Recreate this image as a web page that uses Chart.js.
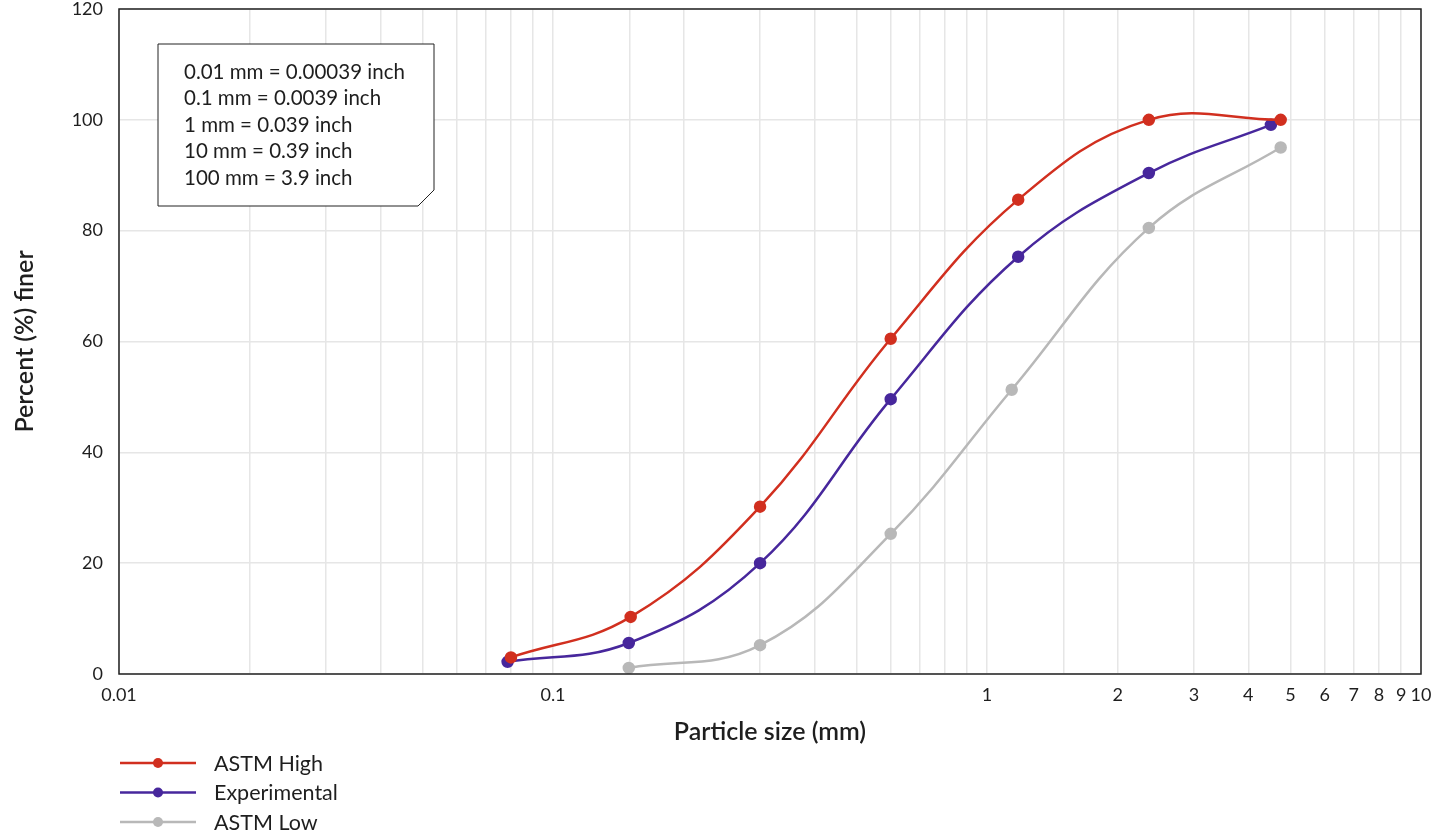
<!DOCTYPE html>
<html>
<head>
<meta charset="utf-8">
<script src="https://cdn.jsdelivr.net/npm/chart.js@4.4.0/dist/chart.umd.min.js"></script>
<style>
  html, body { margin: 0; padding: 0; background: #fff; }
  #wrap { width: 1438px; height: 831px; }
</style>
</head>
<body>
<div id="wrap"><canvas id="grading"></canvas></div>
<script>
// particle size distribution (sieve analysis)

const seriesNames = ['ASTM High', 'Experimental', 'ASTM Low'];
const seriesColors = ['#d12f1f', '#47279c', '#b8b8b8'];

const highSizes = [0.08, 0.151, 0.3, 0.6, 1.18, 2.36, 4.75];
const highFiner = [3, 10.3, 30.2, 60.5, 85.6, 100, 100];

const expSizes = [0.0786, 0.1495, 0.3, 0.6, 1.18, 2.36, 4.51];
const expFiner = [2.2, 5.6, 20, 49.6, 75.3, 90.4, 99.1];

const lowSizes = [0.1495, 0.3, 0.6, 1.14, 2.36, 4.75];
const lowFiner = [1.1, 5.2, 25.3, 51.3, 80.5, 95];

const xTickLabels = ['0.01', '0.1', '1', '2', '3', '4', '5', '6', '7', '8', '9', '10'];
const yTicks = [0, 20, 40, 60, 80, 100, 120];

const noteLines = [
    '0.01 mm = 0.00039 inch',
    '0.1 mm = 0.0039 inch',
    '1 mm = 0.039 inch',
    '10 mm = 0.39 inch',
    '100 mm = 3.9 inch'
];

const FONT = 'Lato, "Open Sans", sans-serif';
const TEXT = '#1e1e1e';

function toPoints(xs, ys) {
    return xs.map((x, i) => ({ x: x, y: ys[i] }));
}

function fmtTick(v) {
    const s = parseFloat(v.toPrecision(3)).toString();
    return xTickLabels.includes(s) ? s : '';
}

// box with the mm -> inch conversions, top-left of the plot
const notePlugin = {
    id: 'noteBox',
    afterDatasetsDraw(chart) {
        const ctx = chart.ctx;
        const x0 = 158, y0 = 44, x1 = 434, y1 = 206, cut = 16;
        ctx.save();
        ctx.beginPath();
        ctx.moveTo(x0, y0);
        ctx.lineTo(x1, y0);
        ctx.lineTo(x1, y1 - cut);
        ctx.lineTo(x1 - cut, y1);
        ctx.lineTo(x0, y1);
        ctx.closePath();
        ctx.fillStyle = '#fff';
        ctx.fill();
        ctx.lineWidth = 1;
        ctx.strokeStyle = '#222';
        ctx.stroke();
        ctx.fillStyle = TEXT;
        ctx.font = '20.5px ' + FONT;
        ctx.textBaseline = 'middle';
        noteLines.forEach((t, i) => ctx.fillText(t, 184, 72 + i * 26.5));
        ctx.restore();
    }
};

// full frame round the plot area
const framePlugin = {
    id: 'frame',
    afterDraw(chart) {
        const a = chart.chartArea;
        const ctx = chart.ctx;
        ctx.save();
        ctx.strokeStyle = '#222';
        ctx.lineWidth = 1.5;
        ctx.strokeRect(a.left, a.top, a.right - a.left, a.bottom - a.top);
        ctx.restore();
    }
};

// vertical legend below the x axis title
const legendPlugin = {
    id: 'stackLegend',
    afterDraw(chart) {
        const ctx = chart.ctx;
        ctx.save();
        chart.data.datasets.forEach((ds, i) => {
            const y = 763 + i * 29.5;
            ctx.strokeStyle = ds.borderColor;
            ctx.lineWidth = 2.5;
            ctx.beginPath();
            ctx.moveTo(120, y);
            ctx.lineTo(196, y);
            ctx.stroke();
            ctx.fillStyle = ds.borderColor;
            ctx.beginPath();
            ctx.arc(158, y, 5, 0, Math.PI * 2);
            ctx.fill();
            ctx.fillStyle = TEXT;
            ctx.font = '21.5px ' + FONT;
            ctx.textBaseline = 'middle';
            ctx.fillText(ds.label, 214, y + 1);
        });
        ctx.restore();
    }
};

const datasets = [
    toPoints(highSizes, highFiner),
    toPoints(expSizes, expFiner),
    toPoints(lowSizes, lowFiner)
].map((pts, i) => ({
    label: seriesNames[i],
    data: pts,
    borderColor: seriesColors[i],
    backgroundColor: seriesColors[i],
    borderWidth: 2.5,
    pointRadius: 5,
    pointHoverRadius: 5,
    tension: 0.4,
    fill: false
}));

new Chart(document.getElementById('grading'), {
    type: 'line',
    data: { datasets: datasets },
    plugins: [notePlugin, framePlugin, legendPlugin],
    options: {
        responsive: true,
        maintainAspectRatio: false,
        animation: false,
        layout: { padding: { top: 8, right: 17, bottom: 80, left: 0 } },
        plugins: {
            legend: { display: false },
            tooltip: { enabled: false }
        },
        scales: {
            x: {
                type: 'logarithmic',
                min: 0.01,
                max: 10,
                // tick marks are invisible, they only push the labels off the axis
                grid: { color: '#e6e6e6', lineWidth: 1.5, drawTicks: true, tickLength: 12, tickColor: 'rgba(0,0,0,0)' },
                border: { display: false },
                ticks: {
                    autoSkip: false,
                    maxRotation: 0,
                    padding: 0,
                    color: TEXT,
                    font: { family: FONT, size: 18, lineHeight: 1 },
                    callback: (v) => fmtTick(v)
                },
                title: {
                    display: true,
                    text: 'Particle size (mm)',
                    color: TEXT,
                    font: { family: FONT, size: 25, weight: '600' }
                },
                afterFit: (axis) => { axis.height = 77; }
            },
            y: {
                min: 0,
                max: 120,
                afterBuildTicks: (axis) => { axis.ticks = yTicks.map(v => ({ value: v })); },
                grid: { color: '#e6e6e6', lineWidth: 1.5, drawTicks: true, tickLength: 16, tickColor: 'rgba(0,0,0,0)' },
                border: { display: false },
                ticks: {
                    padding: 0,
                    color: TEXT,
                    font: { family: FONT, size: 18, lineHeight: 1 }
                },
                title: {
                    display: true,
                    text: 'Percent (%) finer',
                    color: TEXT,
                    padding: { top: 10, bottom: 4 },
                    font: { family: FONT, size: 25, weight: '600' }
                },
                afterFit: (axis) => { axis.width = 119; }
            }
        }
    }
});
</script>
</body>
</html>
